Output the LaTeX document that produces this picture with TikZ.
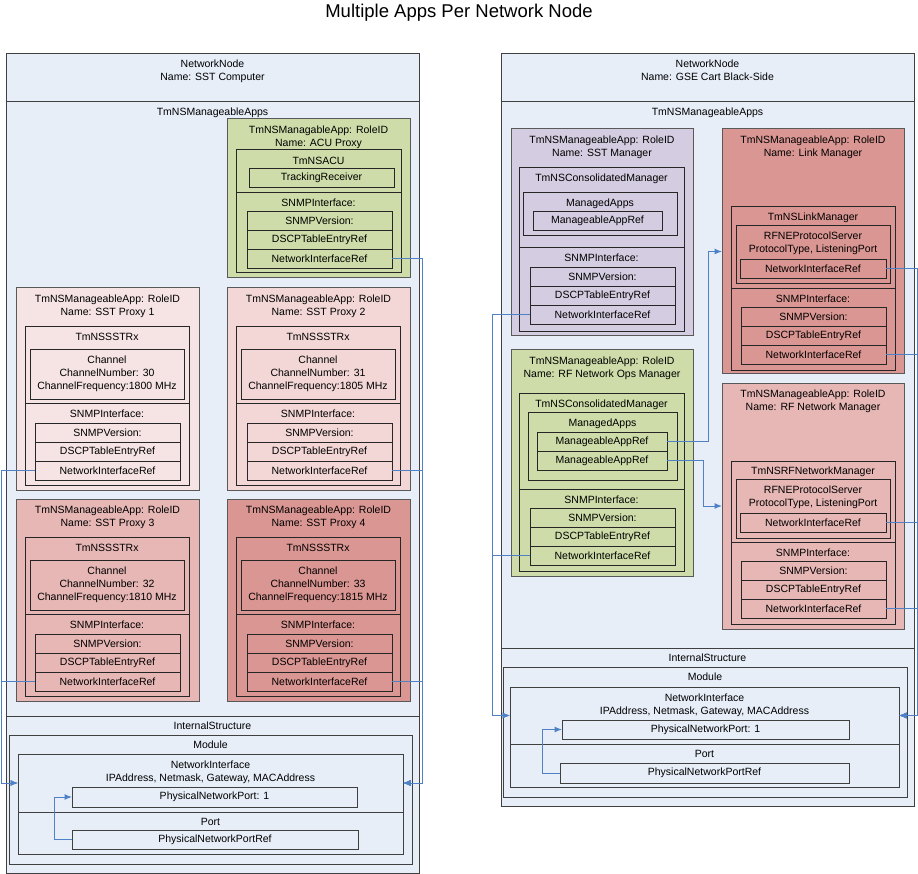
\documentclass[tikz,border=0pt]{standalone}
\usepackage{fontspec}
\setmainfont{Liberation Sans}
\usetikzlibrary{arrows.meta, positioning}
\definecolor{nodebg}{RGB}{231,238,248}
\definecolor{appgreen}{RGB}{205,220,168}
\definecolor{applilac}{RGB}{212,204,224}
\definecolor{pinkA}{RGB}{245,228,227}
\definecolor{pinkB}{RGB}{242,215,214}
\definecolor{pinkC}{RGB}{230,183,181}
\definecolor{pinkD}{RGB}{218,150,146}
\definecolor{linkblue}{RGB}{79,129,199}
\tikzset{
  sz/.style 2 args={minimum width=#1pt, minimum height=#2pt},
  frm/.style={draw=black!85, line width=0.8pt, anchor=north west, inner sep=0pt, outer sep=0pt, align=center},
  app/.style={frm, draw=black!65, line width=1pt},
  outer/.style={frm, draw=black!75, fill=nodebg},
  lbl/.style={inner sep=0pt, align=center},
  conn/.style={-{Latex[length=7.5pt, width=6pt]}, draw=linkblue, line width=1pt},
}
\begin{document}
\begin{tikzpicture}[x=1pt, y=-1pt, every node/.style={font=\fontsize{10.5}{13}\selectfont}]
  \useasboundingbox (0,0) rectangle (918,874);
  \node[font=\fontsize{18.5}{22}\selectfont] (title) at (459,13) {Multiple Apps Per Network Node};

  % SST computer
  \node[outer, sz={413}{48}] (ln) at (6,53) {};
  \node[lbl, below=7pt of ln.north] (lnt) {NetworkNode\\Name: SST Computer};
  \node[outer, sz={413}{615}] (lnApps) at (6,101) {};
  \node[lbl, below=7pt of lnApps.north] (lnAppst) {TmNSManageableApps};
  \node[outer, sz={413}{157}] (lnInt) at (6,716) {};
  \node[lbl, below=6pt of lnInt.north] (lnIntt) {InternalStructure};
  \node[outer, sz={403}{129}] (lnMod) at (9,735) {};
  \node[lbl, below=6pt of lnMod.north] (lnModt) {Module};
  \node[outer, sz={385}{58}] (lnNI) at (18,754) {};
  \node[lbl, below=7pt of lnNI.north] (lnNIt) {NetworkInterface\\IPAddress, Netmask, Gateway, MACAddress};
  \node[outer, sz={385}{42}] (lnPort) at (18,812) {};
  \node[lbl, below=6pt of lnPort.north] (lnPortt) {Port};
  \node[outer, sz={285}{20}] (lnPNP) at (72,787) {PhysicalNetworkPort: 1};
  \node[outer, sz={286}{19}] (lnPNR) at (72,830) {PhysicalNetworkPortRef};

  \node[app, sz={183}{159}, fill=appgreen] (acu) at (227,119) {};
  \node[lbl, below=7pt of acu.north] (acut) {TmNSManagableApp: RoleID\\Name: ACU Proxy};
  \node[frm, sz={165}{43}, fill=appgreen] (acuTop) at (236,149) {};
  \node[lbl, below=8pt of acuTop.north] (acuTopt) {TmNSACU};
  \node[frm, sz={145}{19}, fill=appgreen] (acuTR) at (249,168) {TrackingReceiver};
  \node[frm, sz={165}{80}, fill=appgreen] (acuSN) at (236,192) {};
  \node[lbl, below=7pt of acuSN.north] (acuSNt) {SNMPInterface:};

  \foreach \p/\i/\x/\y/\ch/\fq/\c in {prxA/1/16/288/30/1800/pinkA, prxB/2/227/288/31/1805/pinkB,
      prxC/3/16/499/32/1810/pinkC, prxD/4/227/499/33/1815/pinkD} {
    \node[app, sz={183}{202}, fill=\c] (\p) at (\x,\y) {};
    \node[lbl, below=7pt of \p.north] (\p-t) {TmNSManageableApp: RoleID\\Name: SST Proxy \i};
    \node[frm, sz={164}{77}, fill=\c] (\p-rx) at (\x+9,\y+38) {};
    \node[lbl, below=7pt of \p-rx.north] (\p-rxt) {TmNSSSTRx};
    \node[frm, sz={154}{50}, fill=\c] (\p-ch) at (\x+14,\y+61) {Channel\\ChannelNumber: \ch\\ChannelFrequency:\fq{} MHz};
    \node[frm, sz={164}{82}, fill=\c] (\p-sn) at (\x+9,\y+115) {};
    \node[lbl, below=7pt of \p-sn.north] (\p-snt) {SNMPInterface:};
  }

  % GSE cart
  \node[outer, sz={413}{48}] (rn) at (501,53) {};
  \node[lbl, below=7pt of rn.north] (rnt) {NetworkNode\\Name: GSE Cart Black-Side};
  \node[outer, sz={413}{547}] (rnApps) at (501,101) {};
  \node[lbl, below=7pt of rnApps.north] (rnAppst) {TmNSManageableApps};
  \node[outer, sz={413}{158}] (rnInt) at (501,648) {};
  \node[lbl, below=6pt of rnInt.north] (rnIntt) {InternalStructure};
  \node[outer, sz={404}{130}] (rnMod) at (503,667) {};
  \node[lbl, below=6pt of rnMod.north] (rnModt) {Module};
  \node[outer, sz={389}{57}] (rnNI) at (510,687) {};
  \node[lbl, below=7pt of rnNI.north] (rnNIt) {NetworkInterface\\IPAddress, Netmask, Gateway, MACAddress};
  \node[outer, sz={389}{43}] (rnPort) at (510,744) {};
  \node[lbl, below=6pt of rnPort.north] (rnPortt) {Port};
  \node[outer, sz={287}{19}] (rnPNP) at (562,720) {PhysicalNetworkPort: 1};
  \node[outer, sz={289}{20}] (rnPNR) at (560,763) {PhysicalNetworkPortRef};

  \node[app, sz={182}{207}, fill=applilac] (sstm) at (511,129) {};
  \node[lbl, below=7pt of sstm.north] (sstmt) {TmNSManageableApp: RoleID\\Name: SST Manager};
  \node[frm, sz={165}{80}, fill=applilac] (sstmCM) at (519,167) {};
  \node[lbl, below=7pt of sstmCM.north] (sstmCMt) {TmNSConsolidatedManager};
  \node[frm, sz={154}{43}, fill=applilac] (sstmMA) at (523,192) {};
  \node[lbl, below=7pt of sstmMA.north] (sstmMAt) {ManagedApps};
  \node[frm, sz={129}{19}, fill=applilac] (sstmRef) at (533,211) {ManageableAppRef};
  \node[frm, sz={165}{84}, fill=applilac] (sstmSN) at (519,247) {};
  \node[lbl, below=7pt of sstmSN.north] (sstmSNt) {SNMPInterface:};

  \node[app, sz={182}{245}, fill=pinkD] (lm) at (722,129) {};
  \node[lbl, below=7pt of lm.north] (lmt) {TmNSManageableApp: RoleID\\Name: Link Manager};
  \node[frm, sz={164}{82}, fill=pinkD] (lmLM) at (731,206) {};
  \node[lbl, below=7pt of lmLM.north] (lmLMt) {TmNSLinkManager};
  \node[frm, sz={154}{58}, fill=pinkD] (lmPS) at (736,225) {};
  \node[lbl, below=7pt of lmPS.north] (lmPSt) {RFNEProtocolServer\\ProtocolType, ListeningPort};
  \node[frm, sz={146}{19}, fill=pinkD] (lmNI) at (740,259) {NetworkInterfaceRef};
  \node[frm, sz={164}{82}, fill=pinkD] (lmSN) at (731,288) {};
  \node[lbl, below=7pt of lmSN.north] (lmSNt) {SNMPInterface:};

  \node[app, sz={182}{226}, fill=appgreen] (rfo) at (511,350) {};
  \node[lbl, below=7pt of rfo.north] (rfot) {TmNSManageableApp: RoleID\\Name: RF Network Ops Manager};
  \node[frm, sz={165}{96}, fill=appgreen] (rfoCM) at (519,393) {};
  \node[lbl, below=7pt of rfoCM.north] (rfoCMt) {TmNSConsolidatedManager};
  \node[frm, sz={149}{68}, fill=appgreen] (rfoMA) at (528,412) {};
  \node[lbl, below=7pt of rfoMA.north] (rfoMAt) {ManagedApps};
  \node[frm, sz={130}{19}, fill=appgreen] (rfoRefA) at (537,432) {ManageableAppRef};
  \node[frm, sz={130}{19}, fill=appgreen] (rfoRefB) at (537,451) {ManageableAppRef};
  \node[frm, sz={165}{82}, fill=appgreen] (rfoSN) at (519,489) {};
  \node[lbl, below=7pt of rfoSN.north] (rfoSNt) {SNMPInterface:};

  \node[app, sz={182}{246}, fill=pinkC] (rfn) at (722,383) {};
  \node[lbl, below=7pt of rfn.north] (rfnt) {TmNSManageableApp: RoleID\\Name: RF Network Manager};
  \node[frm, sz={164}{81}, fill=pinkC] (rfnNM) at (731,461) {};
  \node[lbl, below=6pt of rfnNM.north] (rfnNMt) {TmNSRFNetworkManager};
  \node[frm, sz={154}{59}, fill=pinkC] (rfnPS) at (736,479) {};
  \node[lbl, below=7pt of rfnPS.north] (rfnPSt) {RFNEProtocolServer\\ProtocolType, ListeningPort};
  \node[frm, sz={146}{19}, fill=pinkC] (rfnNI) at (740,513) {NetworkInterfaceRef};
  \node[frm, sz={164}{82}, fill=pinkC] (rfnSN) at (731,542) {};
  \node[lbl, below=7pt of rfnSN.north] (rfnSNt) {SNMPInterface:};

  % SNMP tables
  \foreach \s/\x/\y/\c in {acuS/247/211/appgreen, prxAS/35/423/pinkA, prxBS/247/423/pinkB,
      prxCS/35/634/pinkC, prxDS/247/634/pinkD, sstmS/530/267/applilac, lmS/741/307/pinkD,
      rfoS/530/508/appgreen, rfnS/741/561/pinkC} {
    \node[frm, sz={145}{19}, fill=\c] (\s-ver) at (\x,\y) {SNMPVersion:};
    \node[frm, sz={145}{19}, fill=\c] (\s-dscp) at (\x,\y+19) {DSCPTableEntryRef};
    \node[frm, sz={145}{19}, fill=\c] (\s-ni) at (\x,\y+38) {NetworkInterfaceRef};
  }

  % links
  \foreach \s in {prxAS, prxCS}
    \draw[conn] (\s-ni.west) -- ++(-34,0) |- (lnNI.west);
  \foreach \s in {acuS, prxBS, prxDS}
    \draw[conn] (\s-ni.east) -- ++(30,0) |- (lnNI.east);
  \draw[conn] (lnPNR.west) -- ++(-18,0) |- (lnPNP.west);

  \foreach \s in {sstmS-ni, rfoS-ni}
    \draw[conn] (\s.west) -- ++(-38,0) |- (rnNI.west);
  \foreach \s in {lmNI, lmS-ni, rfnNI, rfnS-ni}
    \draw[conn] (\s.east) -- ++(31,0) |- (rnNI.east);
  \draw[conn] (rfoRefA.east) -- ++(41,0) |- (lm.west);
  \draw[conn] (rfoRefB.east) -- ++(36,0) |- (rfn.west);
  \draw[conn] (rnPNR.west) -- ++(-18,0) |- (rnPNP.west);
\end{tikzpicture}
\end{document}
